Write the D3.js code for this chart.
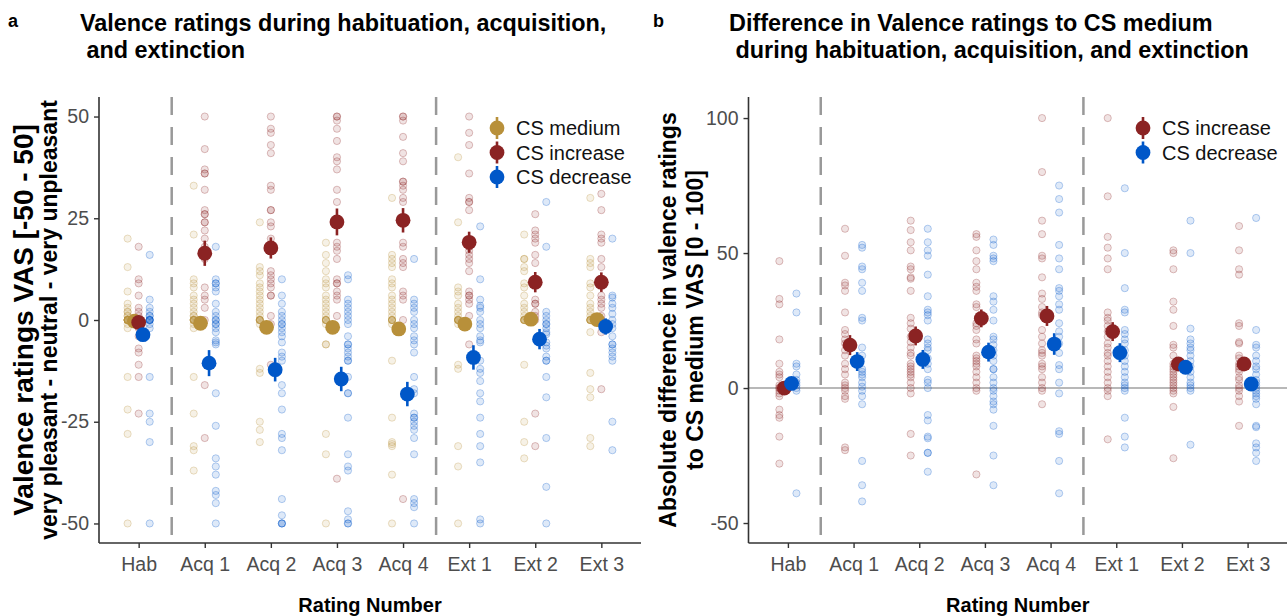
<!DOCTYPE html>
<html>
<head>
<meta charset="utf-8">
<script src="https://cdn.jsdelivr.net/npm/d3@7"></script>
<style>
  body { margin: 0; background: #fff; }
  svg { font-family: "Liberation Sans", Arial, sans-serif; }
</style>
</head>
<body>
<div id="chart"></div>
<script>
// categories on the x axis
const ratings = ["Hab", "Acq 1", "Acq 2", "Acq 3", "Acq 4", "Ext 1", "Ext 2", "Ext 3"];

// panel a: raw valence ratings per rating (one array per rating)
const rawMediumA = [
  [20, 13, 7, 4, 3, 2, 2, 1, 1, 0, 0, 0, 0, 0, 0, 0, 0, 0, 0, -1, -2, -14, -22, -28, -50],
  [33, 21, 10, 9, 8, 6, 5, 4, 3, 2, 1, 1, 0, 0, 0, 0, 0, 0, 0, -1, -2, -14, -23, -31, -32, -37],
  [24, 13, 12, 11, 9, 8, 7, 6, 5, 4, 3, 2, 1, 0, 0, 0, 0, 0, 0, -1, -12, -13, -25, -27, -30],
  [19, 16, 14, 12, 10, 9, 8, 6, 5, 4, 3, 2, 1, 0, 0, 0, 0, 0, -1, -6, -6, -28, -33, -50],
  [30, 16, 15, 14, 13, 10, 9, 8, 6, 5, 4, 3, 2, 1, 0, 0, 0, 0, 0, -1, -10, -24, -30, -30.5, -31, -38, -50],
  [40, 24, 8, 7, 6, 4, 3, 2, 1, 0, 0, 0, 0, 0, 0, 0, -1, -11, -12, -31, -36, -50],
  [21, 15, 15, 13, 12, 9, 8, 6, 4, 3, 2, 1, 0, 0, 0, 0, 0, 0, -11, -25, -30, -34],
  [30, 15, 14, 13, 9, 8, 6, 4, 3, 2, 1, 0, 0, 0, 0, 0, 0, -3, -13, -17, -19, -29, -31]
];
const rawIncreaseA = [
  [18, 10, 9, 6, 3, 2, 1, 0, 0, 0, 0, -1, -2, -4, -7, -8, -11, -14, -23],
  [50, 42, 37, 36, 36, 32, 27, 26, 26, 24, 24, 22, 20, 18, 17, 15, 8, 6, 5, 3, 0, -16, -29],
  [50, 47, 46, 43, 41, 33, 32, 27, 27, 24, 23, 20, 12, 11, 10, 9, 8, 6, 6, 1, -1, -11],
  [50, 50, 49, 47, 44, 40, 39, 37, 32, 29, 19, 18, 17, 15, 10, 9, 9, 7, 6, 5, 1, -39],
  [50, 50, 49, 45, 41, 39, 34, 34, 33, 32, 30, 29, 25, 19, 18, 15, 14, 13, 7, 6, 5, 0, -44],
  [50, 46, 43, 36, 30, 29, 29, 27, 18, 18, 17, 16, 15, 14, 12, 7, 6, 6, 5, 4, 1, -6],
  [26, 22, 21, 20, 19, 16, 14, 9, 5, 4, 4, 2, 1, 0, -23, -31],
  [31, 27, 21, 20, 19, 15, 13, 9, 6, 5, 4, 3, 1, 0, -3, -17]
];
const rawDecreaseA = [
  [16, 5, 3, 2, 1, 1, 0, 0, 0, 0, 0, -1, -2, -14, -23, -25, -30, -50],
  [18, 10, 9, 9, 8, 7, 4, 2, 1, 0, 0, -1, -1, -2, -3, -5, -5.5, -6, -18, -26, -34, -36, -38, -42, -43, -45, -50],
  [10, 6, 4, 2, 1, 0, -1, -1, -2, -3, -4, -5.5, -8, -9, -10, -16, -18, -22, -28, -29, -32, -44, -48, -50, -50, -50],
  [11, 10, 5, 4, 3, 2, 1, 0, -1, -4, -6, -6, -7, -8, -9, -10, -10, -14, -18, -18, -24, -33, -36, -37, -47, -49, -50, -50],
  [15, 5, 4, 3, 2, 0, -1, -2, -4, -5, -6, -8, -14, -17, -18, -23, -24, -24, -25, -26, -27, -29, -33, -44, -45, -46, -50],
  [23, 10, 5, 3.5, 3, 2, 0, -1, -2, -4, -5, -5.5, -10, -12, -13, -15, -18, -20, -24, -28, -31, -35, -49, -50],
  [29, 18, 2, 1, 0, -1, -1, -2, -3, -3.5, -5.5, -6.3, -7, -9, -10, -10, -14, -19, -29, -41, -50],
  [20, 6, 5.5, 4, 3, 1.5, 0, -1, -2, -4, -6, -6, -7, -8, -9, -10, -25, -32]
];
// panel a: means and standard errors
const meanMediumA = [-0.3, -0.8, -1.8, -1.8, -2.2, -1.0, 0.2, 0.1];
const seMediumA = [1.0, 1.2, 1.2, 1.3, 1.6, 1.2, 1.0, 1.0];
const meanIncreaseA = [-0.6, 16.4, 17.7, 24.1, 24.5, 19.1, 9.3, 9.3];
const seIncreaseA = [1.5, 3.1, 2.6, 3.3, 3.0, 2.6, 2.5, 2.4];
const meanDecreaseA = [-3.6, -10.6, -12.2, -14.5, -18.2, -9.2, -4.7, -1.6];
const seDecreaseA = [1.5, 3.2, 2.9, 3.0, 3.0, 3.0, 2.5, 2.0];

// panel b: absolute difference to CS medium
const rawIncreaseB = [
  [47, 33, 31, 18, 9, 6, 5, 4, 1, 0, 0, -1, -2, -3, -8, -10, -11, -18, -28],
  [59, 49, 39, 38, 36, 28, 21.5, 20, 18, 16.5, 14, 12, 9, 7, 5, 2, 1, 0, -1, -3, -4, -22, -23],
  [62, 58.5, 54, 51, 45, 44, 41, 40.5, 36, 26, 24, 22, 19, 17, 15, 13, 12, 9, 8, 7, 6, 5, 4, 2, 0, -2, -17, -25],
  [57, 56, 51, 47, 44, 39, 37.5, 36, 31, 30, 24, 23, 21.5, 18, 16.5, 12, 11, 10, 9, 8, 6, 4, 2, 0, -1, -32],
  [100, 80, 62, 57, 49, 48, 41, 35, 33, 30, 28, 27, 21.5, 19, 16.5, 14, 13, 12, 9, 8, 7, 4, 2, 0, -1, -6],
  [100, 71, 56, 52, 48, 44, 28, 26, 25, 23, 21, 19, 16.5, 15, 13, 12, 10, 8, 6, 4, 2, 0, -1, -3, -19],
  [51, 50, 44, 32, 29, 23, 16, 15, 12, 9, 8, 7, 6, 5, 4, 3, 2, 1, 0, -1, -2, -7, -26],
  [60, 51, 44, 42, 24, 23, 17, 16.5, 12, 11, 9, 8, 7, 6, 4, 3, 1, 0, -1, -3, -5, -14]
];
const rawDecreaseB = [
  [35, 28, 9, 8, 5, 3, 2, 1, 0, -1, -39],
  [53, 52, 45, 44, 39, 36, 26, 25, 15, 12, 7, 6, 5, 4, 2, 0.5, -1, -3, -6, -27, -36, -42],
  [59, 54, 51, 49, 42, 34, 29, 28, 27, 25, 18, 16.5, 15, 14, 11, 9, 7, 3, 2, 0, -10, -12, -18, -18.6, -24, -24, -31],
  [55, 53, 49, 48, 47, 34, 32, 29, 25, 19, 18, 16, 14, 12, 10, 7, 7, 4, 2, 0, -1, -3, -5, -6, -8, -14, -25, -36],
  [75, 70, 65, 53, 48, 44, 37, 36, 34, 31, 29, 24, 21, 19, 16.5, 13, 8.5, 7, 2, -2, -16, -17, -27, -39],
  [74, 50, 37, 29, 28, 21.5, 20, 18, 16.5, 14, 12, 10, 8, 6, 4, 2, 1, 0, -1, -11, -18, -22],
  [62, 50, 22, 18, 16.5, 15, 14, 12, 10, 8, 6, 4, 2, 1, 0, -1, -21],
  [63, 21.5, 16, 15, 12, 10, 8, 7, 5, 3, 2, 1, 0, -1, -2, -3, -4, -6, -14, -14.5, -20.5, -22, -24, -27]
];
const meanIncreaseB = [0.0, 15.9, 19.3, 25.8, 26.7, 20.9, 8.9, 8.9];
const seIncreaseB = [1.5, 3.7, 3.5, 3.3, 3.7, 3.5, 2.2, 2.5];
const meanDecreaseB = [1.7, 9.8, 10.6, 13.3, 16.3, 13.1, 7.7, 1.5];
const seDecreaseB = [1.5, 3.5, 3.5, 3.5, 4.0, 3.5, 2.0, 2.0];

const colMedium = "#B8903A", colIncrease = "#8B2323", colDecrease = "#0057C8";

const W = 1287, H = 616;
const svg = d3.select("#chart").append("svg").attr("width", W).attr("height", H);

// draws one panel
function drawPanel(opt) {
  const x = d3.scalePoint().domain(ratings).range([opt.left, opt.right]).padding(0.6);
  const y = d3.scaleLinear().domain(opt.yDomain).range([543, 97]);
  const step = x.step();
  const g = svg.append("g");

  if (opt.zeroLine) {
    g.append("line").attr("x1", opt.left).attr("x2", opt.right)
      .attr("y1", y(0)).attr("y2", y(0))
      .attr("stroke", "#a0a0a0").attr("stroke-width", 1.5);
  }

  // dashed phase separators
  [0.5, 4.5].forEach(function (p) {
    const xp = x(ratings[0]) + p * step;
    g.append("line").attr("x1", xp).attr("x2", xp).attr("y1", 97).attr("y2", 543)
      .attr("stroke", "#999").attr("stroke-width", 2.5).attr("stroke-dasharray", "18,12");
  });

  // raw points
  opt.groups.forEach(function (grp) {
    const pts = [];
    grp.raw.forEach(function (arr, i) {
      arr.forEach(function (v) { pts.push({ r: ratings[i], v: v }); });
    });
    g.append("g").selectAll("circle").data(pts).join("circle")
      .attr("cx", d => x(d.r) + grp.rawOff * step)
      .attr("cy", d => y(d.v))
      .attr("r", 3.6)
      .attr("fill", grp.color).attr("fill-opacity", 0.13)
      .attr("stroke", grp.color).attr("stroke-opacity", 0.28).attr("stroke-width", 1);
  });

  // means with error bars
  opt.groups.forEach(function (grp) {
    const gm = g.append("g");
    ratings.forEach(function (r, i) {
      const cx = x(r) + grp.meanOff * step;
      gm.append("line").attr("x1", cx).attr("x2", cx)
        .attr("y1", y(grp.mean[i] - grp.se[i])).attr("y2", y(grp.mean[i] + grp.se[i]))
        .attr("stroke", grp.color).attr("stroke-width", 2.6);
      gm.append("circle").attr("cx", cx).attr("cy", y(grp.mean[i])).attr("r", 7.4)
        .attr("fill", grp.color);
    });
  });

  // axes
  const yAxis = g.append("g").attr("transform", `translate(${opt.left},0)`)
    .call(d3.axisLeft(y).tickValues(opt.yTicks).tickSize(5).tickFormat(d => String(d)));
  const xAxis = g.append("g").attr("transform", "translate(0,543)")
    .call(d3.axisBottom(x).tickSize(5));
  [yAxis, xAxis].forEach(function (a) {
    a.select(".domain").attr("stroke", "#333").attr("stroke-width", 1.6);
    a.selectAll(".tick line").attr("stroke", "#333").attr("stroke-width", 1.4);
    a.selectAll(".tick text").attr("fill", "#4d4d4d").style("font-size", "19.5px");
  });
  yAxis.select(".domain").attr("d", `M0,97V543`);
  xAxis.select(".domain").attr("d", `M${opt.left},0H${opt.right}`);
  xAxis.selectAll(".tick text").attr("dy", "1.0em");
  yAxis.selectAll(".tick text").attr("dx", "-0.1em");

  // x title
  svg.append("text").attr("x", (opt.left + opt.right) / 2).attr("y", 612)
    .attr("text-anchor", "middle").style("font-size", "20px").style("font-weight", "bold")
    .text("Rating Number");

  // y title (two lines)
  opt.yTitle.forEach(function (t, i) {
    svg.append("text")
      .attr("transform", `translate(${opt.yTitleX[i]},320) rotate(-90)`)
      .attr("text-anchor", "middle").style("font-size", opt.yTitleSize[i] + "px")
      .style("font-weight", "bold")
      .text(t);
  });

  // panel title
  svg.append("text").attr("x", opt.tagX).attr("y", 27).style("font-size", "18px")
    .style("font-weight", "bold").text(opt.tag);
  opt.title.forEach(function (t, i) {
    svg.append("text").attr("x", opt.titleX[i]).attr("y", 31 + i * 27)
      .style("font-size", "23.4px").style("font-weight", "bold")
      .attr("xml:space", "preserve").text(t);
  });

  // legend
  opt.groups.forEach(function (grp, i) {
    const ly = 128 + i * 24.5;
    svg.append("line").attr("x1", opt.legendX).attr("x2", opt.legendX)
      .attr("y1", ly - 11).attr("y2", ly + 11).attr("stroke", grp.color).attr("stroke-width", 2.6);
    svg.append("circle").attr("cx", opt.legendX).attr("cy", ly).attr("r", 7.4).attr("fill", grp.color);
    svg.append("text").attr("x", opt.legendX + 19).attr("y", ly + 7)
      .style("font-size", "20px").attr("fill", "#111").text(grp.name);
  });
}

drawPanel({
  left: 99, right: 641,
  yDomain: [-54.8, 54.8], yTicks: [-50, -25, 0, 25, 50],
  zeroLine: false,
  groups: [
    { name: "CS medium", color: colMedium, raw: rawMediumA, mean: meanMediumA, se: seMediumA, rawOff: -0.167, meanOff: -0.065 },
    { name: "CS increase", color: colIncrease, raw: rawIncreaseA, mean: meanIncreaseA, se: seIncreaseA, rawOff: 0, meanOff: 0 },
    { name: "CS decrease", color: colDecrease, raw: rawDecreaseA, mean: meanDecreaseA, se: seDecreaseA, rawOff: 0.167, meanOff: 0.065 }
  ],
  yTitle: ["Valence ratings VAS [-50 - 50]", "very pleasant - neutral - very unpleasant"],
  yTitleX: [33, 57],
  yTitleSize: [28, 23],
  tag: "a", tagX: 8,
  title: ["Valence ratings during habituation, acquisition,", " and extinction"],
  titleX: [80, 80],
  legendX: 497
});

drawPanel({
  left: 748.5, right: 1287,
  yDomain: [-57.4, 107.8], yTicks: [-50, 0, 50, 100],
  zeroLine: true,
  groups: [
    { name: "CS increase", color: colIncrease, raw: rawIncreaseB, mean: meanIncreaseB, se: seIncreaseB, rawOff: -0.13, meanOff: -0.055 },
    { name: "CS decrease", color: colDecrease, raw: rawDecreaseB, mean: meanDecreaseB, se: seDecreaseB, rawOff: 0.13, meanOff: 0.055 }
  ],
  yTitle: ["Absolute difference in valence ratings", "to CS medium VAS [0 - 100]"],
  yTitleX: [676, 703],
  yTitleSize: [23, 23],
  tag: "b", tagX: 653,
  title: ["Difference in Valence ratings to CS medium", " during habituation, acquisition, and extinction"],
  titleX: [729, 729],
  legendX: 1143
});
</script>
</body>
</html>
